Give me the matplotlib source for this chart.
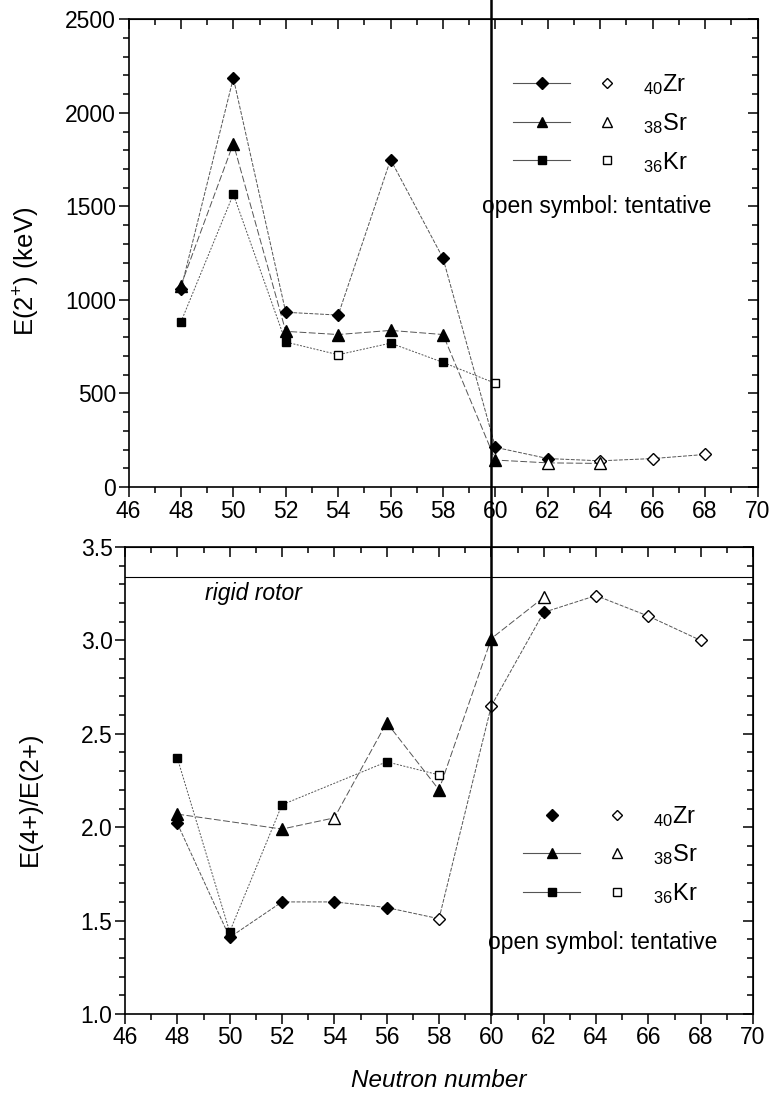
import matplotlib
matplotlib.use('Agg')
import matplotlib.pyplot as plt
import matplotlib.transforms as mtransforms
from matplotlib.lines import Line2D
from matplotlib.legend_handler import HandlerTuple
from matplotlib.ticker import MultipleLocator
import numpy as np

plt.rcParams['font.family'] = ['Liberation Sans', 'DejaVu Sans']
plt.rcParams['mathtext.fontset'] = 'custom'
plt.rcParams['mathtext.rm'] = 'Liberation Sans'
plt.rcParams['mathtext.it'] = 'Liberation Sans:italic'
plt.rcParams['mathtext.bf'] = 'Liberation Sans:bold'

# E(2+) (keV) 上图数据
zr_n = [48, 50, 52, 54, 56, 58, 60, 62, 64, 66, 68]
zr_e2 = [1057, 2186, 934, 919, 1750, 1223, 212, 152, 140, 152, 174]
zr_e2_open = [0, 0, 0, 0, 0, 0, 0, 0, 1, 1, 1]
sr_n = [48, 50, 52, 54, 56, 58, 60, 62, 64]
sr_e2 = [1077, 1836, 832, 815, 837, 815, 144, 129, 126]
sr_e2_open = [0, 0, 0, 0, 0, 0, 0, 1, 1]
kr_n = [48, 50, 52, 54, 56, 58, 60]
kr_e2 = [882, 1565, 775, 707, 769, 666, 554]
kr_e2_open = [0, 0, 0, 1, 0, 0, 1]

# E(4+)/E(2+) 下图数据
zr_r_n = [48, 50, 52, 54, 56, 58, 60, 62, 64, 66, 68]
zr_r = [2.02, 1.41, 1.60, 1.60, 1.57, 1.51, 2.65, 3.15, 3.24, 3.13, 3.00]
zr_r_open = [0, 0, 0, 0, 0, 1, 1, 0, 1, 1, 1]
sr_r_n = [48, 52, 54, 56, 58, 60, 62]
sr_r = [2.07, 1.99, 2.05, 2.56, 2.20, 3.01, 3.23]
sr_r_open = [0, 0, 1, 0, 0, 0, 1]
kr_r_n = [48, 50, 52, 56, 58]
kr_r = [2.37, 1.44, 2.12, 2.35, 2.28]
kr_r_open = [0, 0, 0, 0, 1]
rigid_rotor = 3.34

FS = 16.5
LINE_C = '#555555'
MARK = {'Zr': ('D', 6.3), 'Sr': ('^', 8.0), 'Kr': ('s', 6.0)}
LABELS = {'Zr': '$_{40}$Zr', 'Sr': '$_{38}$Sr', 'Kr': '$_{36}$Kr'}
DASH = {'Zr': (0, (4, 1.5)), 'Sr': (0, (7, 2.5)), 'Kr': (0, (2, 1.5))}


def draw_series(ax, name, xs, ys, opens):
    xs = np.asarray(xs)
    ys = np.asarray(ys)
    opens = np.asarray(opens, dtype=bool)
    m, ms = MARK[name]
    ax.plot(xs, ys, color=LINE_C, lw=0.7, ls=DASH[name], zorder=2)
    ax.plot(xs[~opens], ys[~opens], ls='none', marker=m, ms=ms,
            mfc='black', mec='black', zorder=3, clip_on=False)
    ax.plot(xs[opens], ys[opens], ls='none', marker=m, ms=ms,
            mfc='white', mec='black', mew=1.0, zorder=3, clip_on=False)


def style_axes(ax, ymin, ymax, ymajor, yminor, fmt=None):
    ax.set_xlim(46, 70)
    ax.set_ylim(ymin, ymax)
    ax.set_xticks(range(46, 71, 2))
    ax.xaxis.set_minor_locator(MultipleLocator(1))
    ax.yaxis.set_major_locator(MultipleLocator(ymajor))
    ax.yaxis.set_minor_locator(MultipleLocator(yminor))
    if fmt:
        ax.yaxis.set_major_formatter(plt.FormatStrFormatter(fmt))
    for s in ax.spines.values():
        s.set_linewidth(1.2)
    ax.tick_params(which='both', direction='out', width=1.1, labelsize=FS,
                   top=False, right=False, pad=2)
    ax.tick_params(which='major', length=7)
    ax.tick_params(which='minor', length=4)
    top = ax.secondary_xaxis('top')
    top.set_xticks(range(46, 71, 2))
    top.xaxis.set_minor_locator(MultipleLocator(1))
    top.tick_params(which='both', direction='in', width=1.1, labeltop=False)
    top.tick_params(which='major', length=7)
    top.tick_params(which='minor', length=4)
    right = ax.secondary_yaxis('right')
    right.yaxis.set_major_locator(MultipleLocator(ymajor))
    right.yaxis.set_minor_locator(MultipleLocator(yminor))
    right.tick_params(which='both', direction='in', width=1.1, labelright=False)
    right.tick_params(which='major', length=7)
    right.tick_params(which='minor', length=4)


def make_legend(ax, x_px, y_px, zr_line):
    hs = []
    for name in ['Zr', 'Sr', 'Kr']:
        m, ms = MARK[name]
        ms = ms * 0.95
        use_line = zr_line or name != 'Zr'
        h1 = Line2D([], [], color=LINE_C, lw=0.8, ls='-' if use_line else 'none',
                    marker=m, ms=ms, mfc='black', mec='black')
        h2 = Line2D([], [], ls='none', marker=m, ms=ms * 0.9,
                    mfc='white', mec='black', mew=1.0)
        hs.append((h1, h2))
    leg = ax.legend(hs, [LABELS[k] for k in ['Zr', 'Sr', 'Kr']],
                    handler_map={tuple: HandlerTuple(ndivide=None, pad=0.35)},
                    loc='center left', bbox_to_anchor=(x_px / 778, 1 - y_px / 1098),
                    bbox_transform=fig.transFigure, frameon=False, fontsize=FS + 0.5,
                    handlelength=5.2, handletextpad=0.3, labelspacing=0.58,
                    borderpad=0, borderaxespad=0)
    return leg


fig = plt.figure(figsize=(7.78, 10.98), dpi=100)
ax1 = fig.add_axes([128.5 / 778, 1 - 487 / 1098, 629 / 778, 467.7 / 1098])
ax2 = fig.add_axes([125 / 778, 1 - 1014 / 1098, 628 / 778, 467 / 1098])

# 上图：E(2+)
draw_series(ax1, 'Zr', zr_n, zr_e2, zr_e2_open)
draw_series(ax1, 'Sr', sr_n, sr_e2, sr_e2_open)
draw_series(ax1, 'Kr', kr_n, kr_e2, kr_e2_open)
style_axes(ax1, 0, 2500, 500, 100)
ax1.set_ylabel('E(2$^{+}$) (keV)', fontsize=FS + 2)
ax1.yaxis.set_label_coords(-0.1375, 0.462)
make_legend(ax1, 513, 123.5, True)
ax1.text(0.562, 0.600, 'open symbol: tentative', transform=ax1.transAxes,
         fontsize=FS, va='center', ha='left')

# 下图：E(4+)/E(2+)
draw_series(ax2, 'Zr', zr_r_n, zr_r, zr_r_open)
draw_series(ax2, 'Sr', sr_r_n, sr_r, sr_r_open)
draw_series(ax2, 'Kr', kr_r_n, kr_r, kr_r_open)
ax2.axhline(rigid_rotor, color='black', lw=0.8, zorder=1)
style_axes(ax2, 1.0, 3.5, 0.5, 0.1, fmt='%.1f')
ax2.set_ylabel('E(4+)/E(2+)', fontsize=FS + 2)
ax2.yaxis.set_label_coords(-0.132, 0.46)
ax2.set_xlabel('Neutron number', fontsize=FS + 1, style='italic', labelpad=14)
ax2.text(0.127, 0.901, 'rigid rotor', transform=ax2.transAxes,
         fontsize=FS, style='italic', va='center', ha='left')
make_legend(ax2, 523, 855, False)
ax2.text(0.578, 0.154, 'open symbol: tentative', transform=ax2.transAxes,
         fontsize=FS, va='center', ha='left')

# N=60 竖线贯穿两图
trans = mtransforms.blended_transform_factory(ax2.transData, fig.transFigure)
fig.add_artist(Line2D([60, 60], [1 - 1014 / 1098, 1.0], transform=trans,
                      color='black', lw=1.8, zorder=10))

fig.savefig('out.png', dpi=100)
